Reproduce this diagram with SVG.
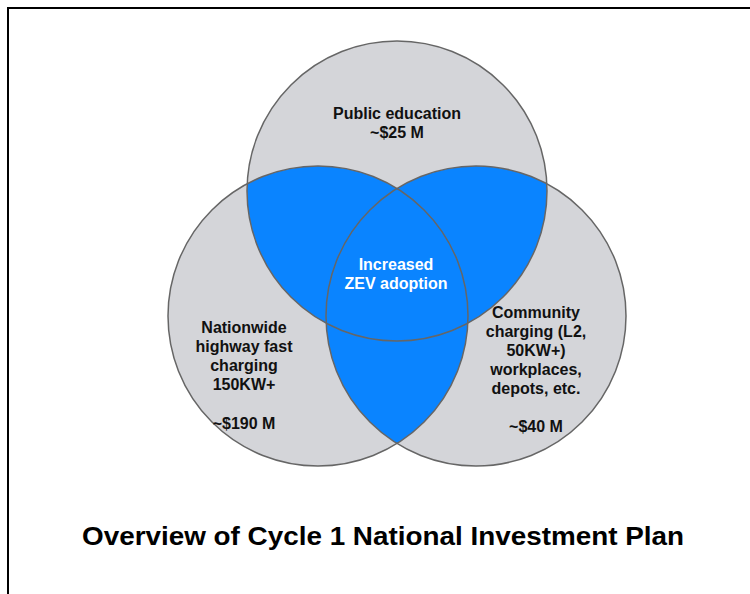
<svg xmlns="http://www.w3.org/2000/svg" width="750" height="594" viewBox="0 0 750 594">
<style>
.lbl{font-family:"Liberation Sans",Arial,sans-serif;font-weight:bold;font-size:16px;fill:#111;text-anchor:middle}
.w{fill:#fff}
.ring{fill:none;stroke:#666;stroke-width:1.5}
.base{fill:#d4d5d9}
.blue{fill:#0a84ff}
.title{font-family:"Liberation Sans",Arial,sans-serif;font-weight:bold;font-size:26px;fill:#000}
</style>
<defs>
<clipPath id="cTop"><circle cx="397" cy="191" r="150"/></clipPath>
<clipPath id="cLeft"><circle cx="318" cy="316" r="150"/></clipPath>
<clipPath id="cRight"><circle cx="476" cy="316" r="150"/></clipPath>
</defs>
<rect width="750" height="594" fill="#fff"/>
<path d="M8,594 V8 H750" fill="none" stroke="#000" stroke-width="2"/>
<g id="fills">
<circle class="base" cx="397" cy="191" r="150"/>
<circle class="base" cx="318" cy="316" r="150"/>
<circle class="base" cx="476" cy="316" r="150"/>
<g clip-path="url(#cTop)"><circle class="blue" cx="318" cy="316" r="150"/><circle class="blue" cx="476" cy="316" r="150"/></g>
<g clip-path="url(#cLeft)"><circle class="blue" cx="476" cy="316" r="150"/></g>
</g>
<g id="top-circle">
<circle class="ring" cx="397" cy="191" r="150"/>
<text class="lbl" x="397" y="119">Public education</text>
<text class="lbl" x="397" y="138">~$25 M</text>
</g>
<g id="left-circle">
<circle class="ring" cx="318" cy="316" r="150"/>
<text class="lbl" x="244" y="333">Nationwide</text>
<text class="lbl" x="244" y="352">highway fast</text>
<text class="lbl" x="244" y="371">charging</text>
<text class="lbl" x="244" y="390">150KW+</text>
<text class="lbl" x="244" y="429">~$190 M</text>
</g>
<g id="right-circle">
<circle class="ring" cx="476" cy="316" r="150"/>
<text class="lbl" x="536" y="318">Community</text>
<text class="lbl" x="536" y="337">charging (L2,</text>
<text class="lbl" x="536" y="356">50KW+)</text>
<text class="lbl" x="536" y="375">workplaces,</text>
<text class="lbl" x="536" y="394">depots, etc.</text>
<text class="lbl" x="536" y="432">~$40 M</text>
</g>
<g id="center">
<text class="lbl w" x="396" y="270">Increased</text>
<text class="lbl w" x="396" y="289">ZEV adoption</text>
</g>
<text class="title" x="82" y="545" textLength="602" lengthAdjust="spacingAndGlyphs">Overview of Cycle 1 National Investment Plan</text>
</svg>
